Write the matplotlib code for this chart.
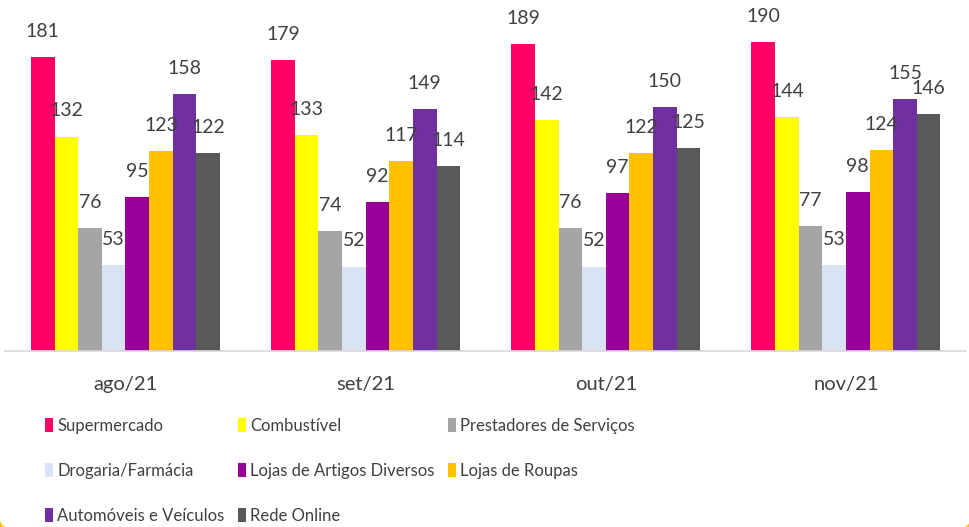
import matplotlib
matplotlib.use("Agg")
import matplotlib.pyplot as plt
from matplotlib import font_manager as fm
import numpy as np
from matplotlib.patches import FancyBboxPatch
from matplotlib.transforms import IdentityTransform

months = ["ago/21", "set/21", "out/21", "nov/21"]
series_names = ["Supermercado", "Combustível", "Prestadores de Serviços",
                "Drogaria/Farmácia", "Lojas de Artigos Diversos", "Lojas de Roupas",
                "Automóveis e Veículos", "Rede Online"]
supermercado = [181, 179, 189, 190]
combustivel = [132, 133, 142, 144]
prestadores = [76, 74, 76, 77]
drogaria = [53, 52, 52, 53]
lojas_artigos = [95, 92, 97, 98]
lojas_roupas = [123, 117, 122, 124]
automoveis = [158, 149, 150, 155]
rede_online = [122, 114, 125, 146]
colors = ["#FF0066", "#FFFF00", "#A5A5A5", "#DAE3F3",
          "#990099", "#FFC000", "#7030A0", "#595959"]

all_series = [supermercado, combustivel, prestadores, drogaria,
              lojas_artigos, lojas_roupas, automoveis, rede_online]

leg_prop = fm.FontProperties(family="Lato", size=12)

W, H, DPI = 970, 527, 100
fig = plt.figure(figsize=(W / DPI, H / DPI), dpi=DPI)
fig.patch.set_facecolor("#FFC000")
panel = FancyBboxPatch((0, -0.5), W, H + 40, boxstyle="round,pad=0,rounding_size=9",
                       transform=IdentityTransform(), facecolor="white",
                       edgecolor="none", zorder=-10)
fig.patches.append(panel)

num_font = "Lato"
ax = fig.add_axes([5.4 / W, 1 - 351 / H, 960.6 / W, 351 / H])
ax.set_facecolor("none")
x = np.arange(len(months))
n = len(all_series)
bw = 0.0984
bars = []
for i, (vals, name, c) in enumerate(zip(all_series, series_names, colors)):
    pos = x + (i - (n - 1) / 2) * bw
    b = ax.bar(pos, vals, width=bw, color=c, label=name, linewidth=0)
    bars.append(b)
    for xi, v in zip(pos, vals):
        ax.annotate(str(v), (xi, v), xytext=(0, 14.4), textcoords="offset points",
                    ha="center", va="baseline", fontsize=14, color="#404040",
                    family=num_font)

ax.set_xlim(-0.5, 3.5)
ax.set_ylim(0, 216)
ax.set_yticks([])
ax.set_xticks(x)
ax.set_xticklabels(months, fontsize=14.5, color="#404040", family=num_font)
ax.tick_params(axis="x", length=0, pad=18)
for s in ["top", "right", "left"]:
    ax.spines[s].set_visible(False)
ax.spines["bottom"].set_color("#D9D9D9")
ax.spines["bottom"].set_linewidth(1.2)

order = [0, 3, 6, 1, 4, 7, 2, 5]
handles = [bars[i] for i in order]
labels = [series_names[i] for i in order]
leg = fig.legend(handles, labels, loc="upper left",
                 bbox_to_anchor=(45 / W, 1 - 418 / H), ncol=3, frameon=False,
                 prop=leg_prop,
                 handlelength=0.48, handleheight=0.95, handletextpad=0.25,
                 columnspacing=0.8, labelspacing=1.73, borderpad=0, borderaxespad=0)
for t in leg.get_texts():
    t.set_color("#404040")

fig.savefig("out.png", dpi=DPI, facecolor=fig.get_facecolor())
